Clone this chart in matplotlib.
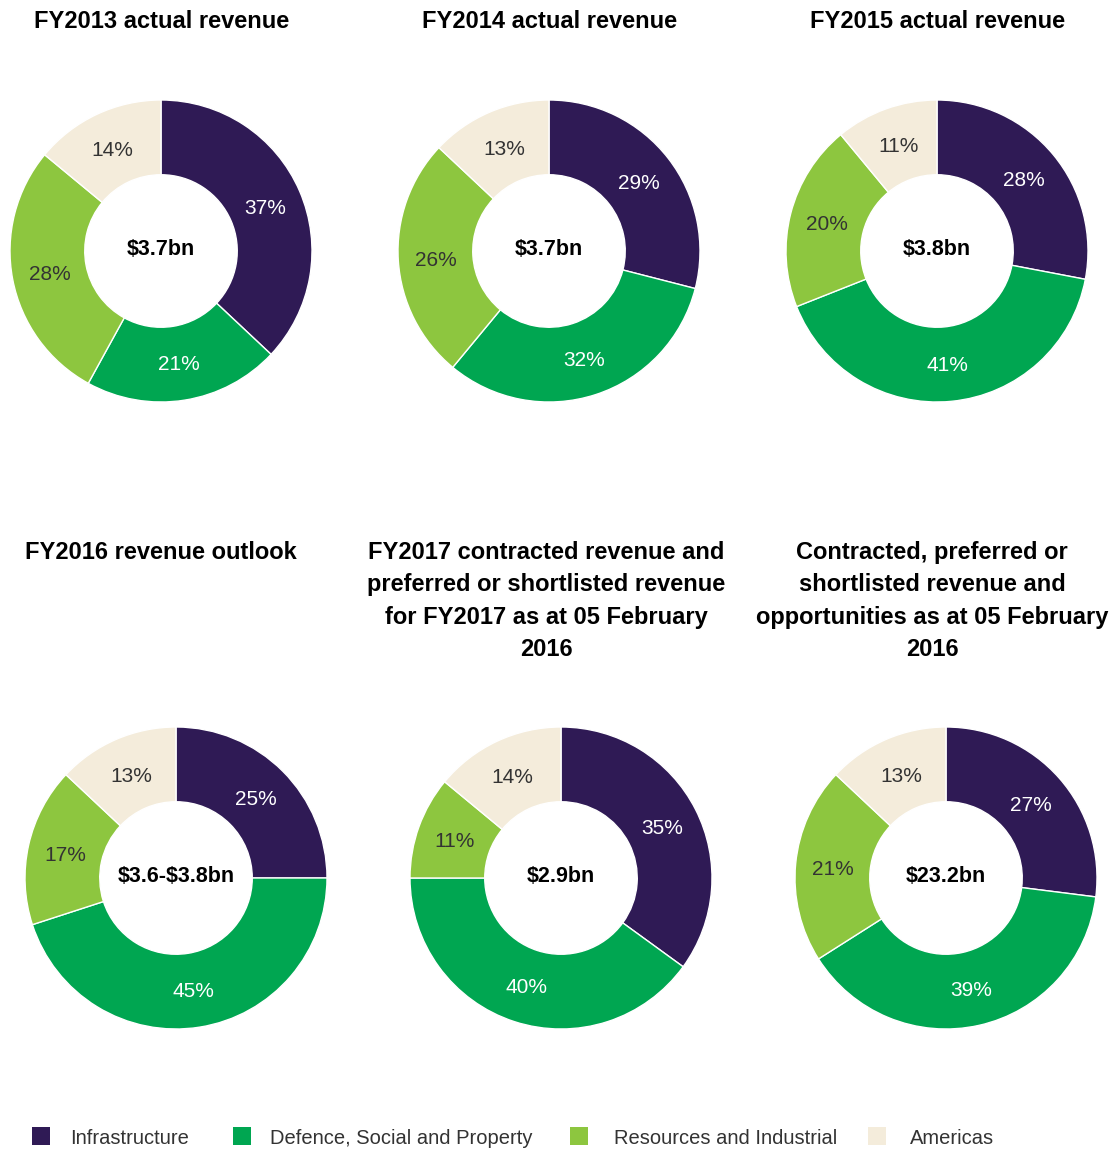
import matplotlib.pyplot as plt
from matplotlib.patches import Rectangle

# -----------------------------
# Dados
# -----------------------------
segments = ["Infrastructure", "Defence, Social and Property", "Resources and Industrial", "Americas"]
colors = ["#2f1a55", "#00a651", "#8dc63f", "#f4ecdb"]
label_colors = ["white", "white", "#333333", "#333333"]

titles = [
    "FY2013 actual revenue",
    "FY2014 actual revenue",
    "FY2015 actual revenue",
    "FY2016 revenue outlook",
    "FY2017 contracted revenue and\npreferred or shortlisted revenue\nfor FY2017 as at 05 February\n2016",
    "Contracted, preferred or\nshortlisted revenue and\nopportunities as at 05 February\n2016",
]
totals = ["$3.7bn", "$3.7bn", "$3.8bn", "$3.6-$3.8bn", "$2.9bn", "$23.2bn"]

fy2013 = [37, 21, 28, 14]
fy2014 = [29, 32, 26, 13]
fy2015 = [28, 41, 20, 11]
fy2016 = [25, 45, 17, 13]
fy2017 = [35, 40, 11, 14]
pipeline = [27, 39, 21, 13]
shares = [fy2013, fy2014, fy2015, fy2016, fy2017, pipeline]

# -----------------------------
# Layout (pixels)
# -----------------------------
W, H = 1118, 1149
centers = [(161, 251), (549, 251), (937, 251), (176, 878), (561, 878), (946, 878)]
title_pos = [(162, 10), (550, 10), (938, 10), (161, 541), (546, 541), (932, 541)]
R = 151

plt.rcParams["font.family"] = ["Liberation Sans", "DejaVu Sans"]
plt.rcParams["text.parse_math"] = False

fig = plt.figure(figsize=(W / 100, H / 100), dpi=100)

for (cx, cy), vals, total in zip(centers, shares, totals):
    ax = fig.add_axes([(cx - R) / W, 1 - (cy + R) / H, 2 * R / W, 2 * R / H])
    wedges, _, autotexts = ax.pie(
        vals,
        colors=colors,
        startangle=90,
        counterclock=False,
        radius=1,
        autopct="%d%%",
        pctdistance=0.75,
        wedgeprops=dict(width=0.495, edgecolor="white", linewidth=1),
        textprops=dict(fontsize=15),
    )
    for t, c in zip(autotexts, label_colors):
        t.set_color(c)
        t.set_va("center_baseline")
    ax.text(0, 0.008, total, ha="center", va="center", fontsize=15.5, fontweight="bold", color="black")
    ax.set_xlim(-1, 1)
    ax.set_ylim(-1, 1)
    ax.set_aspect("equal")
    ax.axis("off")

for (tx, ty), title in zip(title_pos, titles):
    fig.text(tx / W, 1 - ty / H, title, ha="center", va="top", fontsize=17,
             fontweight="bold", linespacing=1.52, color="black")

# legenda manual
leg_sq = [32, 233, 570, 868]
leg_txt = [70, 270, 614, 910]
leg_y = 1136
for x, xt, c, name in zip(leg_sq, leg_txt, colors, segments):
    fig.patches.append(Rectangle((x / W, 1 - (leg_y + 9) / H), 18 / W, 18 / H,
                                 transform=fig.transFigure, facecolor=c, edgecolor="none"))
    fig.text(xt / W, 1 - (leg_y + 3) / H, name, ha="left", va="center", fontsize=14.5, color="#333333")

fig.savefig("out.png", dpi=100)
